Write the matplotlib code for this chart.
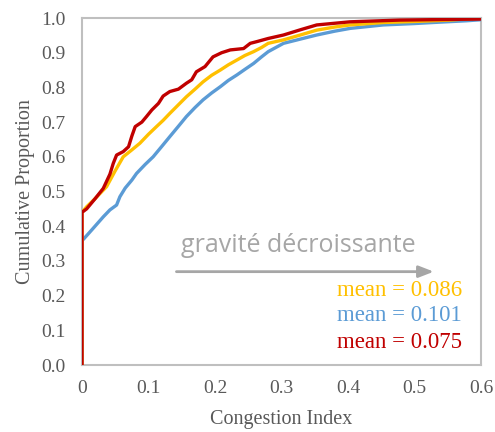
import matplotlib
matplotlib.use("Agg")
import matplotlib.pyplot as plt

# Congestion index (x) and cumulative proportion (y)
x_yellow = [0.0, 0.0, 0.007, 0.02, 0.037, 0.05, 0.062, 0.075, 0.087, 0.1, 0.112, 0.122, 0.132, 0.145,
            0.157, 0.17, 0.182, 0.195, 0.208, 0.22, 0.233, 0.245, 0.258, 0.27, 0.28, 0.303, 0.33,
            0.353, 0.38, 0.403, 0.453, 0.5, 0.553, 0.6]
y_yellow = [0.0, 0.44, 0.456, 0.48, 0.514, 0.56, 0.60, 0.62, 0.639, 0.665, 0.687, 0.705, 0.725, 0.75,
            0.773, 0.795, 0.816, 0.835, 0.85, 0.865, 0.879, 0.892, 0.903, 0.915, 0.927, 0.937, 0.952,
            0.965, 0.974, 0.98, 0.987, 0.99, 0.994, 1.0]

x_blue = [0.0, 0.0, 0.002, 0.015, 0.032, 0.042, 0.052, 0.057, 0.065, 0.075, 0.082, 0.095, 0.107, 0.12,
          0.132, 0.145, 0.157, 0.17, 0.182, 0.195, 0.208, 0.22, 0.233, 0.245, 0.258, 0.27, 0.28, 0.303,
          0.33, 0.353, 0.38, 0.403, 0.453, 0.5, 0.528, 0.578, 0.6]
y_blue = [0.0, 0.36, 0.362, 0.39, 0.427, 0.447, 0.461, 0.485, 0.51, 0.533, 0.552, 0.578, 0.60, 0.63,
          0.658, 0.688, 0.716, 0.742, 0.764, 0.784, 0.802, 0.82, 0.836, 0.852, 0.869, 0.888, 0.903, 0.927,
          0.94, 0.951, 0.962, 0.97, 0.98, 0.984, 0.987, 0.992, 0.995]

x_red = [0.0, 0.0, 0.007, 0.02, 0.032, 0.042, 0.047, 0.052, 0.062, 0.07, 0.075, 0.08, 0.09, 0.097, 0.105,
         0.115, 0.122, 0.132, 0.145, 0.157, 0.165, 0.172, 0.185, 0.197, 0.21, 0.223, 0.243, 0.253, 0.263,
         0.28, 0.303, 0.33, 0.353, 0.403, 0.478, 0.6]
y_red = [0.0, 0.44, 0.45, 0.48, 0.509, 0.55, 0.581, 0.605, 0.615, 0.629, 0.66, 0.687, 0.70, 0.716, 0.735,
         0.754, 0.775, 0.788, 0.795, 0.812, 0.822, 0.845, 0.86, 0.888, 0.9, 0.908, 0.912, 0.927, 0.932,
         0.941, 0.951, 0.967, 0.98, 0.989, 0.994, 0.997]

mean_labels = ["mean = 0.086", "mean = 0.101", "mean = 0.075"]
x_ticks = [0, 0.1, 0.2, 0.3, 0.4, 0.5, 0.6]
x_ticklabels = ["0", "0.1", "0.2", "0.3", "0.4", "0.5", "0.6"]
y_ticks = [0.0, 0.1, 0.2, 0.3, 0.4, 0.5, 0.6, 0.7, 0.8, 0.9, 1.0]

c_yellow, c_blue, c_red = "#FFC000", "#5B9BD5", "#C00000"
grey_txt = "#595959"

fig = plt.figure(figsize=(4.95, 4.32), dpi=100)
ax = fig.add_axes([82 / 495, 1 - 365 / 432, (481 - 82) / 495, (365 - 18) / 432])

lw = 2.4
ax.plot(x_blue, y_blue, color=c_blue, lw=lw, solid_joinstyle="round", zorder=3)
ax.plot(x_yellow, y_yellow, color=c_yellow, lw=lw, solid_joinstyle="round", zorder=4)
ax.plot(x_red, y_red, color=c_red, lw=lw, solid_joinstyle="round", zorder=5)

ax.set_xlim(0, 0.6)
ax.set_ylim(0, 1.0)
ax.set_xticks(x_ticks)
ax.set_xticklabels(x_ticklabels)
ax.set_yticks(y_ticks)
ax.set_yticklabels([f"{v:.1f}" for v in y_ticks])
ax.tick_params(length=0, labelsize=14, colors=grey_txt)
ax.tick_params(axis="y", pad=12)
ax.tick_params(axis="x", pad=11)
for lab in ax.get_xticklabels() + ax.get_yticklabels():
    lab.set_family("Liberation Serif")
for s in ax.spines.values():
    s.set_color("#BFBFBF")
    s.set_linewidth(1.5)

ax.set_xlabel("Congestion Index", family="Liberation Serif", fontsize=14.5, color=grey_txt, labelpad=9)
ax.set_ylabel("Cumulative Proportion", family="Liberation Serif", fontsize=14.5, color=grey_txt, labelpad=4)

# arrow annotation
ax.annotate("", xy=(0.529, 0.269), xytext=(0.142, 0.269), xycoords="data",
            arrowprops=dict(arrowstyle="-|>,head_length=0.9,head_width=0.35", color="#A6A6A6", lw=2,
                            shrinkA=0, shrinkB=0))
ax.text(0.149, 0.325, "gravité décroissante", family="Open Sans", fontsize=18, color="#A6A6A6",
        ha="left", va="baseline")

for lab, col, yy in zip(mean_labels, [c_yellow, c_blue, c_red], [0.199, 0.127, 0.049]):
    ax.text(0.571, yy, lab, family="Liberation Serif", fontsize=16.5, color=col, ha="right", va="baseline")

fig.savefig("out.png", dpi=100)
